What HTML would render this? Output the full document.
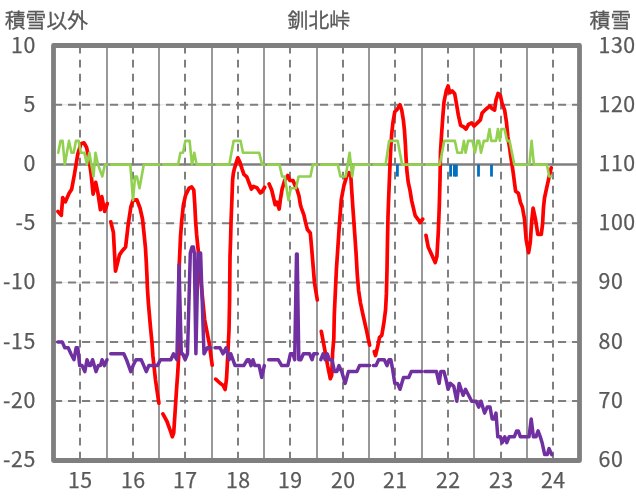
<!DOCTYPE html>
<html lang="ja"><head><meta charset="utf-8"><title>釧北峠</title>
<style>html,body{margin:0;padding:0;background:#fff;overflow:hidden}svg{display:block}.n{font-family:"Noto Sans CJK JP","Liberation Sans",sans-serif;font-size:21.33px;letter-spacing:0.55px;fill:#595959;stroke:#595959;stroke-width:0.25px}.j{font-family:"Liberation Sans","Noto Sans CJK JP",sans-serif;font-size:20.8px;fill:#595959;stroke:#595959;stroke-width:0.3px}</style></head><body>
<svg width="636" height="501" viewBox="0 0 636 501">
<rect width="636" height="501" fill="#fff"/>
<g stroke="#7f7f7f" fill="none">
<line x1="53.5" y1="104.8" x2="579.5" y2="104.8" stroke="#d4d4d4" stroke-width="0.6"/>
<line x1="54" y1="104.8" x2="579.5" y2="104.8" stroke-width="2" stroke-dasharray="8.1 5.9"/>
<line x1="53.5" y1="223.3" x2="579.5" y2="223.3" stroke="#d4d4d4" stroke-width="0.6"/>
<line x1="54" y1="223.3" x2="579.5" y2="223.3" stroke-width="2" stroke-dasharray="8.1 5.9"/>
<line x1="53.5" y1="282.6" x2="579.5" y2="282.6" stroke="#d4d4d4" stroke-width="0.6"/>
<line x1="54" y1="282.6" x2="579.5" y2="282.6" stroke-width="2" stroke-dasharray="8.1 5.9"/>
<line x1="53.5" y1="341.9" x2="579.5" y2="341.9" stroke="#d4d4d4" stroke-width="0.6"/>
<line x1="54" y1="341.9" x2="579.5" y2="341.9" stroke-width="2" stroke-dasharray="8.1 5.9"/>
<line x1="53.5" y1="401.1" x2="579.5" y2="401.1" stroke="#d4d4d4" stroke-width="0.6"/>
<line x1="54" y1="401.1" x2="579.5" y2="401.1" stroke-width="2" stroke-dasharray="8.1 5.9"/>
<line x1="107.0" y1="45.5" x2="107.0" y2="460.5" stroke-width="1.6"/>
<line x1="159.0" y1="45.5" x2="159.0" y2="460.5" stroke-width="1.6"/>
<line x1="212.0" y1="45.5" x2="212.0" y2="460.5" stroke-width="1.6"/>
<line x1="264.0" y1="45.5" x2="264.0" y2="460.5" stroke-width="1.6"/>
<line x1="317.0" y1="45.5" x2="317.0" y2="460.5" stroke-width="1.6"/>
<line x1="369.0" y1="45.5" x2="369.0" y2="460.5" stroke-width="1.6"/>
<line x1="422.0" y1="45.5" x2="422.0" y2="460.5" stroke-width="1.6"/>
<line x1="474.0" y1="45.5" x2="474.0" y2="460.5" stroke-width="1.6"/>
<line x1="527.0" y1="45.5" x2="527.0" y2="460.5" stroke-width="1.6"/>
<line x1="80.0" y1="45.7" x2="80.0" y2="460.5" stroke-width="2" stroke-dasharray="7.9 6.1"/>
<line x1="133.0" y1="45.7" x2="133.0" y2="460.5" stroke-width="2" stroke-dasharray="7.9 6.1"/>
<line x1="185.0" y1="45.7" x2="185.0" y2="460.5" stroke-width="2" stroke-dasharray="7.9 6.1"/>
<line x1="238.0" y1="45.7" x2="238.0" y2="460.5" stroke-width="2" stroke-dasharray="7.9 6.1"/>
<line x1="290.0" y1="45.7" x2="290.0" y2="460.5" stroke-width="2" stroke-dasharray="7.9 6.1"/>
<line x1="343.0" y1="45.7" x2="343.0" y2="460.5" stroke-width="2" stroke-dasharray="7.9 6.1"/>
<line x1="395.0" y1="45.7" x2="395.0" y2="460.5" stroke-width="2" stroke-dasharray="7.9 6.1"/>
<line x1="448.0" y1="45.7" x2="448.0" y2="460.5" stroke-width="2" stroke-dasharray="7.9 6.1"/>
<line x1="501.0" y1="45.7" x2="501.0" y2="460.5" stroke-width="2" stroke-dasharray="7.9 6.1"/>
<line x1="553.0" y1="45.7" x2="553.0" y2="460.5" stroke-width="2" stroke-dasharray="7.9 6.1"/>
<line x1="53.5" y1="164.6" x2="579.5" y2="164.6" stroke-width="2.5"/>
</g>
<rect x="396.0" y="164.6" width="2.8" height="12.0" fill="#0070c0"/>
<rect x="449.2" y="164.6" width="2.8" height="12.0" fill="#0070c0"/>
<rect x="453.0" y="164.6" width="2.8" height="12.0" fill="#0070c0"/>
<rect x="455.0" y="164.6" width="2.8" height="12.0" fill="#0070c0"/>
<rect x="477.1" y="164.6" width="2.8" height="12.0" fill="#0070c0"/>
<rect x="490.1" y="164.6" width="2.8" height="12.0" fill="#0070c0"/>
<polyline points="57.9,211.5 61.3,215.3 62.7,197.6 65.3,201.9 69.1,193.2 71.7,189.2 74.3,175.0 77.8,154.1 80.9,143.7 83.9,142.8 86.5,147.2 89.1,159.3 91.2,175.0 93.1,194.1 95.7,182.3 97.8,192.3 100.4,209.7 101.8,196.7 104.7,211.5 107.3,203.6" fill="none" stroke="#ff0000" stroke-width="3.7" stroke-linecap="round" stroke-linejoin="round"/>
<polyline points="110.8,221.9 113.4,232.4 115.5,271.1 119.5,254.9 122.1,251.0 125.6,247.1 128.2,224.5 130.8,207.2 133.1,200.2 136.9,199.9 140.0,208.0 142.5,219.0 144.1,234.2 145.5,248.3 146.3,262.5 147.0,276.7 147.4,288.0 148.4,303.4 150.5,327.5 151.9,341.7 152.9,355.9 155.5,380.0 158.9,403.2" fill="none" stroke="#ff0000" stroke-width="3.7" stroke-linecap="round" stroke-linejoin="round"/>
<polyline points="162.9,413.9 167.0,421.5 170.2,430.3 172.3,436.8 173.7,432.8 175.2,410.2 176.5,390.0 177.8,372.0 178.8,354.0 179.0,300.0 179.3,263.9 180.0,248.3 180.5,237.0 181.6,222.1 183.4,204.8 185.6,195.2 189.1,188.2 191.7,187.0 193.8,190.0 194.8,204.8 195.6,221.0 196.6,234.2 198.0,248.3 199.0,256.9 200.8,280.4 204.7,320.0 209.1,342.6 212.2,365.2" fill="none" stroke="#ff0000" stroke-width="3.7" stroke-linecap="round" stroke-linejoin="round"/>
<polyline points="215.7,379.1 220.4,383.5 223.0,385.2 225.1,389.5 226.5,379.1 227.8,354.8 229.0,330.0 229.6,300.0 230.0,256.9 230.6,239.5 231.1,220.0 231.8,202.0 232.6,180.0 233.4,173.0 234.3,169.1 236.4,162.1 237.8,157.8 239.9,162.1 242.1,169.1 243.9,174.3 246.8,176.9 249.1,183.0 251.4,189.1 253.4,186.5 256.9,187.7 260.4,192.9 262.1,191.7 264.7,187.3" fill="none" stroke="#ff0000" stroke-width="3.7" stroke-linecap="round" stroke-linejoin="round"/>
<polyline points="269.1,183.9 271.7,190.0 275.2,204.7 276.9,202.1 279.2,209.1 280.4,199.5 282.1,189.1 284.7,180.4 287.8,175.5 289.9,180.4 293.1,180.7 295.1,185.6 296.9,189.1 299.0,196.0 300.4,204.7 301.3,207.8 303.9,214.8 305.6,222.6 307.4,229.5 310.3,233.0 311.7,248.7 313.4,269.5 314.5,283.0 317.3,300.0" fill="none" stroke="#ff0000" stroke-width="3.7" stroke-linecap="round" stroke-linejoin="round"/>
<polyline points="321.3,331.3 324.8,350.0 327.7,366.0 330.3,378.7 331.7,375.2 332.6,353.0 333.8,338.7 334.3,314.8 335.5,288.7 336.4,269.5 337.8,248.7 339.5,222.6 341.3,199.5 343.9,185.6 346.5,176.9 349.1,172.6 350.8,176.0 351.7,190.0 352.9,208.0 354.1,225.0 354.8,234.8 356.0,252.1 357.3,275.0 358.6,290.4 360.4,302.6 363.0,314.8 366.5,330.4 369.6,345.2" fill="none" stroke="#ff0000" stroke-width="3.7" stroke-linecap="round" stroke-linejoin="round"/>
<polyline points="374.3,351.6 375.5,355.6 377.8,346.0 379.5,337.3 381.8,335.3 383.8,323.4 385.6,309.5 386.4,293.9 387.0,270.0 387.5,240.0 388.0,216.9 388.6,199.5 389.3,182.1 390.0,164.8 390.8,147.4 391.8,133.0 393.0,122.1 394.8,111.7 397.4,109.1 400.0,104.8 401.7,110.0 403.4,120.4 404.5,130.8 405.4,144.7 406.0,156.9 406.8,170.0 408.2,182.1 410.0,190.4 411.7,200.9 415.2,215.6 417.8,219.1 420.4,222.6 422.7,219.1" fill="none" stroke="#ff0000" stroke-width="3.7" stroke-linecap="round" stroke-linejoin="round"/>
<polyline points="426.0,235.3 428.2,246.9 431.7,254.7 435.2,262.5 436.9,256.5 438.3,232.1 439.3,206.1 440.0,180.0 440.5,152.0 441.6,134.0 442.8,117.0 444.0,102.0 446.2,91.0 448.1,86.0 449.8,92.8 452.2,90.9 454.7,93.7 456.2,102.3 458.4,115.4 460.6,125.4 463.4,126.7 466.0,129.1 468.5,124.5 471.7,122.9 474.0,126.0 476.9,123.4 480.4,119.9 482.1,113.0 485.6,109.5 489.9,106.0 492.2,108.7 494.6,110.0 496.0,100.0 498.1,93.4 500.4,95.6 502.1,103.4 504.7,110.4 506.5,122.6 507.9,137.0 509.9,150.0 510.4,153.9 513.0,171.3 515.6,191.3 518.4,193.2 520.4,202.4 522.4,207.2 524.5,219.0 526.2,240.0 528.6,252.6 530.3,242.1 531.7,221.3 533.1,208.2 535.5,219.5 537.8,234.3 541.3,234.3 542.5,224.8 543.5,207.4 544.5,198.0 546.9,186.9 549.2,176.5 551.2,167.8" fill="none" stroke="#ff0000" stroke-width="3.7" stroke-linecap="round" stroke-linejoin="round"/>
<polyline points="58.2,152.7 60.5,140.9 62.6,140.9 64.8,164.6 69.0,140.9 71.5,152.7 73.7,152.7 75.9,140.9 78.7,140.9 80.8,152.7 84.4,152.7 86.9,164.6 89.3,152.7 93.5,176.5 95.5,152.7 98.0,164.6 102.3,176.5 104.9,164.6 107.3,164.6" fill="none" stroke="#92d050" stroke-width="2.6" stroke-linecap="round" stroke-linejoin="round"/>
<polyline points="111.2,164.6 130.3,164.6 133.0,200.2 135.1,176.5 136.9,176.5 139.5,188.3 143.8,164.6 159.3,164.6" fill="none" stroke="#92d050" stroke-width="2.6" stroke-linecap="round" stroke-linejoin="round"/>
<polyline points="163.2,164.6 178.1,164.6 180.4,152.7 183.0,152.7 185.3,140.9 189.6,140.9 192.0,164.6 194.3,152.7 196.6,164.6 212.3,164.6" fill="none" stroke="#92d050" stroke-width="2.6" stroke-linecap="round" stroke-linejoin="round"/>
<polyline points="216.2,164.6 229.3,164.6 233.6,140.9 240.6,140.9 243.0,152.7 259.2,152.7 262.1,164.6 264.3,164.6" fill="none" stroke="#92d050" stroke-width="2.6" stroke-linecap="round" stroke-linejoin="round"/>
<polyline points="268.2,164.6 279.5,164.6 282.1,176.5 284.7,176.5 288.5,200.2 290.8,188.3 296.0,188.3 298.6,176.5 310.4,176.5 312.9,164.6 317.3,164.6" fill="none" stroke="#92d050" stroke-width="2.6" stroke-linecap="round" stroke-linejoin="round"/>
<polyline points="321.2,164.6 337.8,164.6 340.4,176.5 345.6,176.5 349.6,152.7 352.2,176.5 353.8,164.6 369.7,164.6" fill="none" stroke="#92d050" stroke-width="2.6" stroke-linecap="round" stroke-linejoin="round"/>
<polyline points="373.6,164.6 385.6,164.6 389.1,140.9 397.7,140.9 402.1,164.6 422.3,164.6" fill="none" stroke="#92d050" stroke-width="2.6" stroke-linecap="round" stroke-linejoin="round"/>
<polyline points="426.2,164.6 439.8,164.6 444.2,140.9 454.9,140.9 457.4,152.7 461.8,152.7 463.9,140.9 465.6,152.7 468.1,140.9 472.5,140.9 475.0,152.7 477.3,140.9 479.2,140.9 481.0,152.7 483.8,140.9 487.3,140.9 489.5,129.0 491.3,140.9 496.1,140.9 497.9,129.0 499.9,140.9 501.4,129.0 504.6,129.0 507.1,140.9 509.6,140.9 514.3,164.6 529.4,164.6 531.6,140.9 533.9,164.6 546.9,164.6 549.2,176.5 551.2,176.5" fill="none" stroke="#92d050" stroke-width="2.6" stroke-linecap="round" stroke-linejoin="round"/>
<polyline points="57.8,341.9 62.2,341.9 64.8,347.8 68.2,347.8 70.9,353.8 74.0,359.7 76.1,347.8 77.8,347.8 79.7,365.6 82.1,365.6 84.8,371.6 87.0,359.7 89.1,365.6 90.5,365.6 92.6,359.7 96.0,371.6 98.3,365.6 100.4,365.6 102.1,359.7 104.4,365.6 107.0,359.7" fill="none" stroke="#7030a0" stroke-width="3.5" stroke-linecap="round" stroke-linejoin="round"/>
<polyline points="110.7,353.8 123.8,353.8 126.5,359.7 130.8,371.6 133.1,365.6 136.0,359.7 141.2,359.7 143.8,365.6 146.3,371.6 148.8,365.6 157.4,365.6 160.5,359.7 170.9,359.7 173.5,353.8 176.9,359.7 179.0,264.8 181.3,353.8 182.6,353.8 185.2,359.7 187.5,353.8 190.3,253.0 192.0,247.0 193.4,247.0 194.3,253.0 195.9,353.8 198.1,253.0 200.6,253.0 204.0,353.8 207.3,347.8 210.6,347.8" fill="none" stroke="#7030a0" stroke-width="3.5" stroke-linecap="round" stroke-linejoin="round"/>
<polyline points="215.0,347.8 220.0,347.8 223.0,353.8 226.1,347.8 229.1,359.7 230.8,353.8 235.1,365.6 243.8,365.6 247.3,359.7 249.0,359.7 251.0,365.6 253.0,359.7 254.8,365.6 259.1,365.6 261.7,377.5 264.3,365.6" fill="none" stroke="#7030a0" stroke-width="3.5" stroke-linecap="round" stroke-linejoin="round"/>
<polyline points="268.7,359.7 278.2,359.7 281.7,365.6 287.8,365.6 290.4,353.8 293.0,353.8 294.7,359.7 296.5,254.1 297.2,254.1 298.8,359.7 300.8,359.7 303.4,353.8 309.5,353.8 312.1,359.7 313.8,353.8 317.3,353.8" fill="none" stroke="#7030a0" stroke-width="3.5" stroke-linecap="round" stroke-linejoin="round"/>
<polyline points="320.8,359.7 323.1,353.8 325.2,359.7 327.3,353.8 329.3,359.7 332.0,359.7 334.5,371.6 336.8,371.6 339.0,365.6 341.7,371.6 345.2,383.4 348.4,371.6 350.8,371.6 356.9,371.6 359.5,365.6 369.6,365.6" fill="none" stroke="#7030a0" stroke-width="3.5" stroke-linecap="round" stroke-linejoin="round"/>
<polyline points="373.4,365.6 376.0,365.6 378.6,359.7 384.3,359.7 387.0,365.6 389.0,359.7 390.8,359.7 392.5,368.6 394.8,383.4 397.4,383.4 400.0,389.3 403.5,377.5 408.7,377.5 411.3,371.6 421.7,371.6" fill="none" stroke="#7030a0" stroke-width="3.5" stroke-linecap="round" stroke-linejoin="round"/>
<polyline points="424.8,371.6 436.5,371.6 439.1,383.4 440.8,371.6 443.9,371.6 446.0,379.3 448.1,389.3 450.4,383.4 453.8,386.4 456.8,401.2 459.1,383.4 463.1,395.3 465.5,389.3 468.6,395.3 471.7,401.2 476.1,401.2 478.7,407.1 481.0,401.2 484.6,413.1 487.2,407.1 490.0,407.1 492.2,419.0 494.3,419.0 496.0,413.1 497.8,436.8 500.4,436.8 502.1,442.7 504.8,436.8 506.8,442.7 509.1,436.8 514.3,436.8 516.6,430.9 518.3,430.9 520.4,436.8 529.0,436.8 531.2,419.0 533.4,436.8 536.0,436.8 538.1,430.9 540.3,436.8 542.1,442.7 544.7,454.6 547.3,454.6 549.1,448.6 551.7,454.6" fill="none" stroke="#7030a0" stroke-width="3.5" stroke-linecap="round" stroke-linejoin="round"/>
<rect x="53.5" y="45.5" width="526.0" height="415.0" fill="none" stroke="#7f7f7f" stroke-width="4.8" stroke-linejoin="round"/>
<text class="j" x="4.8" y="28.3">積雪以外</text>
<text class="j" x="318.8" y="27.5" text-anchor="middle">釧北峠</text>
<text class="j" x="589.6" y="28.3">積雪</text>
<text class="n" x="35.8" y="52.8" text-anchor="end">10</text>
<text class="n" x="35.8" y="111.9" text-anchor="end">5</text>
<text class="n" x="35.8" y="171.1" text-anchor="end">0</text>
<text class="n" x="35.8" y="230.2" text-anchor="end">-5</text>
<text class="n" x="35.8" y="289.3" text-anchor="end">-10</text>
<text class="n" x="35.8" y="348.5" text-anchor="end">-15</text>
<text class="n" x="35.8" y="407.6" text-anchor="end">-20</text>
<text class="n" x="35.8" y="466.7" text-anchor="end">-25</text>
<text class="n" x="598.5" y="52.8">130</text>
<text class="n" x="598.5" y="111.9">120</text>
<text class="n" x="598.5" y="171.1">110</text>
<text class="n" x="598.5" y="230.2">100</text>
<text class="n" x="598.5" y="289.3">90</text>
<text class="n" x="598.5" y="348.5">80</text>
<text class="n" x="598.5" y="407.6">70</text>
<text class="n" x="598.5" y="466.7">60</text>
<text class="n" x="80.3" y="487.8" text-anchor="middle">15</text>
<text class="n" x="133.3" y="487.8" text-anchor="middle">16</text>
<text class="n" x="185.3" y="487.8" text-anchor="middle">17</text>
<text class="n" x="238.3" y="487.8" text-anchor="middle">18</text>
<text class="n" x="290.3" y="487.8" text-anchor="middle">19</text>
<text class="n" x="343.3" y="487.8" text-anchor="middle">20</text>
<text class="n" x="395.3" y="487.8" text-anchor="middle">21</text>
<text class="n" x="448.3" y="487.8" text-anchor="middle">22</text>
<text class="n" x="501.3" y="487.8" text-anchor="middle">23</text>
<text class="n" x="553.3" y="487.8" text-anchor="middle">24</text>
</svg></body></html>
